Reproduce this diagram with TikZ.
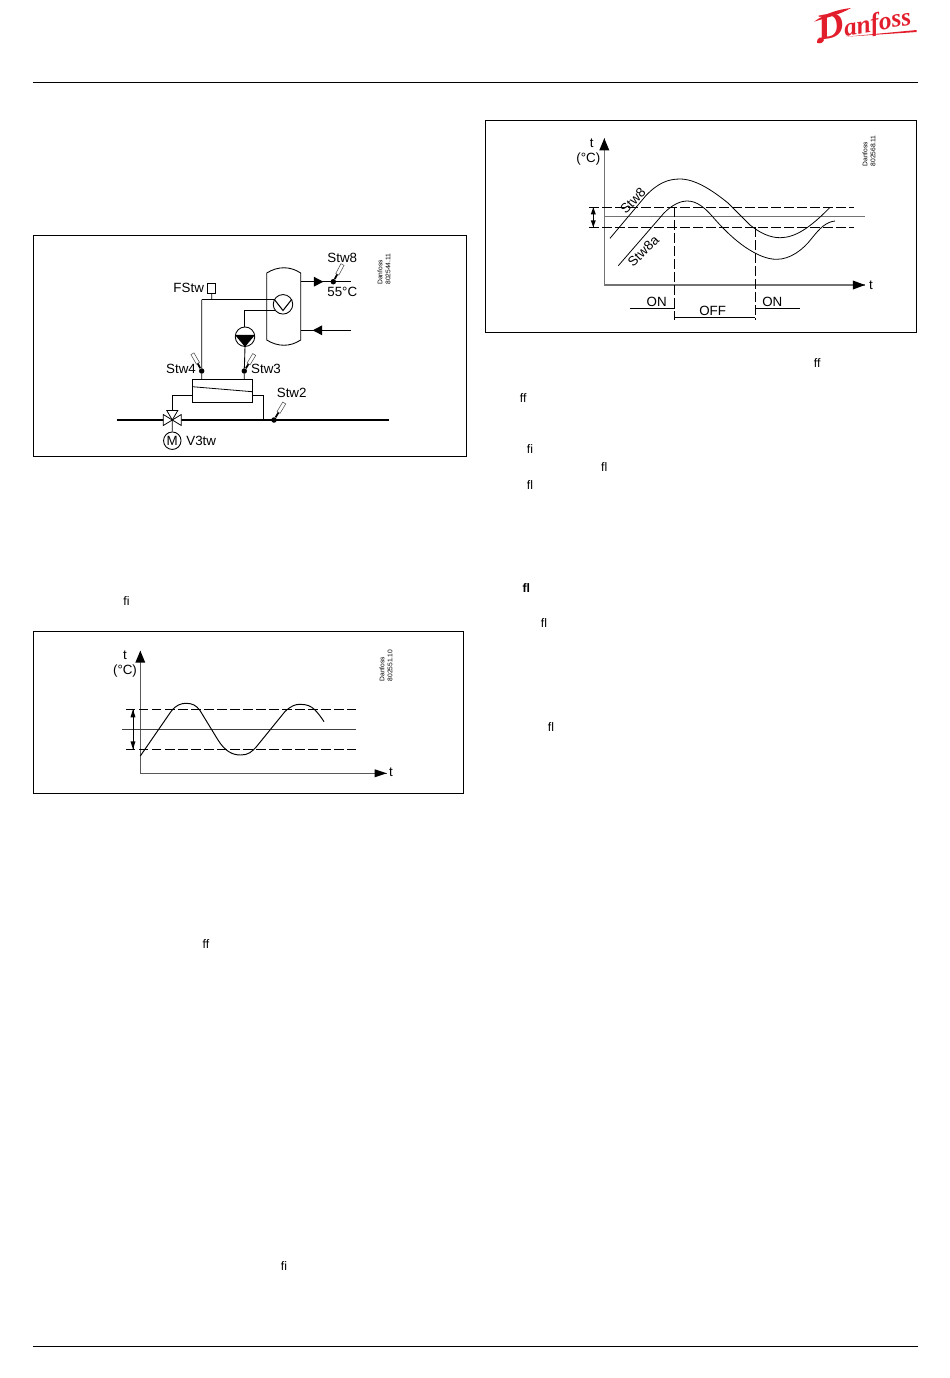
\documentclass[tikz,border=0pt]{standalone}
\usepackage{fontspec}
\setmainfont{Liberation Sans}
\newfontfamily\logofont{Liberation Serif}
\definecolor{logored}{RGB}{227,30,44}
\begin{document}
\begin{tikzpicture}[scale=0.2]
\tikzstyle{every node}+=[inner sep=0pt]
\tikzstyle{txt}=[font=\fontsize{7.6}{9}\selectfont]
\tikzstyle{lig}=[font=\fontsize{7}{8}\selectfont]
\tikzstyle{tag}=[font=\fontsize{3.8}{4.6}\selectfont,rotate=90,anchor=west,align=left]
\tikzstyle{frame}=[draw,line width=0.45pt]
\tikzstyle{pipe}=[line width=0.5pt]
\tikzstyle{mainpipe}=[line width=0.75pt]
\tikzstyle{dot}=[circle,fill=black,minimum size=0.11cm]
\tikzstyle{stem}=[line width=1pt]
\tikzstyle{bulb}=[draw=black!70,fill=white,line width=0.3pt,minimum width=0.22cm,minimum height=0.07cm]
\tikzstyle{rnd}=[circle,draw,fill=white,line width=0.5pt,minimum size=0.39cm]
\tikzstyle{dline}=[line width=0.55pt,dash pattern=on 5.4pt off 2pt]
\tikzstyle{axis}=[line width=0.5pt,black!65]
\tikzstyle{axisb}=[line width=0.8pt,black!55]
\tikzstyle{hair}=[line width=0.45pt]
\useasboundingbox (0,0) rectangle (95,-137.8);
% page rules and logo
\coordinate (topa) at (3.3,-8.25);
\coordinate (topb) at (91.8,-8.25);
\coordinate (bota) at (3.3,-134.6);
\coordinate (botb) at (91.8,-134.6);
\draw [line width=0.5pt] (topa) -- (topb);
\draw [line width=0.5pt] (bota) -- (botb);
\node [logored,rotate=10,font=\logofont\bfseries\itshape] (logo) at (86.4,-2.35) {{\fontsize{21}{21}\selectfont D}{\fontsize{14.5}{15}\selectfont anfoss}};
\fill [logored] (81.4,-2.17) .. controls (82.6,-1.3) and (83.8,-0.95) .. (85.1,-0.8) .. controls (84.0,-1.45) and (82.7,-1.75) .. (81.4,-2.17);
\fill [logored] (81.7,-4.27) .. controls (81.6,-3.8) and (82.2,-3.5) .. (82.4,-4.0) .. controls (82.3,-4.3) and (82,-4.4) .. (81.7,-4.27);
\fill [logored] (84.6,-3.67) -- (91.67,-3.0) -- (91.67,-3.2) -- cycle;
% schematic
\node [frame,minimum width=8.66cm,minimum height=4.42cm] (boxa) at (25,-34.6) {};
\draw [pipe] (26.67,-27.3) -- (26.67,-34) .. controls (27.8,-34.7) and (29,-34.7) .. (30.07,-34) -- (30.07,-27.3) .. controls (29,-26.6) and (27.8,-26.6) .. (26.67,-27.3);
\coordinate (outa) at (30.07,-28.17);
\coordinate (outb) at (35.07,-28.17);
\coordinate (ina) at (30.07,-33.03);
\coordinate (inb) at (35.07,-33.03);
\draw [pipe] (outa) -- (outb);
\draw [pipe] (ina) -- (inb);
\fill [black] (32.33,-28.17) -- ++(-0.95,0.5) -- ++(0,-1) -- cycle;
\fill [black] (31.27,-33.03) -- ++(0.95,0.5) -- ++(0,-1) -- cycle;
\node [rnd] (hx) at (28.3,-30.43) {};
\draw [line width=0.6pt] (hx.150) -- (28.3,-31.05) -- (hx.30);
\node [rnd] (pump) at (24.5,-33.67) {};
\fill [black] (pump.170) -- (pump.south) -- (pump.10) -- cycle;
\node [draw,line width=0.5pt,minimum width=0.165cm,minimum height=0.2cm] (fstw) at (21.18,-28.83) {};
\coordinate (fsa) at (21.18,-29.95);
\coordinate (fsb) at (20.17,-29.95);
\node [draw,line width=0.6pt,minimum width=1.2cm,minimum height=0.468cm] (heat) at (22.23,-39.1) {};
\draw [hair] (19.23,-38.67) -- (25.23,-39.17);
\node [dot] (s4) at (20.17,-37.1) {};
\node [dot] (s3) at (24.43,-37.1) {};
\node [dot] (s2) at (27.4,-42) {};
\node [dot] (s8) at (33.33,-28.17) {};
\draw [pipe] (fstw) -- (fsa);
\draw [pipe] (fsb) -- (fsa -| hx.150);
\draw [pipe] (fsb) -- (s4) -- (s4 |- heat.north);
\coordinate (hxb) at (24.4,-31);
\draw [pipe] (hxb -| hx.215) -- (hxb) -- (pump.north -| hxb);
\draw [pipe] (pump.south) -- (s3) -- (s3 |- heat.north);
\node [bulb,rotate=120] (b4) at (19.52,-35.85) {};
\node [bulb,rotate=59] (b3) at (25.14,-35.92) {};
\node [bulb,rotate=59] (b2) at (28.14,-40.77) {};
\node [bulb,rotate=62] (b8) at (33.99,-26.94) {};
\draw [stem] (s4) -- (b4);
\draw [stem] (s3) -- (b3);
\draw [stem] (s2) -- (b2);
\draw [stem] (s8) -- (b8);
\coordinate (pa) at (11.67,-42);
\coordinate (pb) at (38.93,-42);
\coordinate (v3) at (17.23,-42);
\coordinate (hl) at (17.23,-39.57);
\coordinate (hr) at (26.33,-39.57);
\draw [mainpipe] (pa) -- (pb);
\draw [pipe] (heat.west |- hl) -- (hl) -- (v3);
\draw [pipe] (heat.east |- hr) -- (hr) -- (hr |- pa);
\node [rnd,minimum size=0.35cm] (motor) at (17.23,-44.07) {};
\draw [pipe] (v3) -- (motor);
\node [txt] (mlbl) at (motor) {M};
\draw [hair,fill=white] (v3) -- ++(-0.9,0.55) -- ++(0,-1.1) -- cycle;
\draw [hair,fill=white] (v3) -- ++(0.9,0.55) -- ++(0,-1.1) -- cycle;
\draw [hair,fill=white] (v3) -- ++(-0.55,0.95) -- ++(1.1,0) -- cycle;
\node [txt,anchor=west] (v3tw) at (18.6,-44.07) {V3tw};
\node [txt] (l8) at (34.23,-25.83) {Stw8};
\node [txt] (l55) at (34.23,-29.17) {55°C};
\node [txt] (lf) at (18.87,-28.77) {FStw};
\node [txt] (l4) at (18.1,-36.93) {Stw4};
\node [txt] (l3) at (26.6,-36.93) {Stw3};
\node [txt] (l2) at (29.17,-39.33) {Stw2};
\node [tag] (taga) at (38.4,-28.5) {Danfoss\\802544.11};
% upper right chart
\node [frame,minimum width=8.62cm,minimum height=4.24cm] (boxb) at (70.1,-22.65) {};
\coordinate (oc) at (60.43,-28.5);
\coordinate (oy) at (60.43,-13.83);
\coordinate (ox) at (86.5,-28.5);
\draw [axisb] (oy) -- (oc) -- (ox);
\fill [black] (oy) -- ++(-0.5,-1.2) -- ++(1,0) -- cycle;
\fill [black] (ox) -- ++(-1.2,0.45) -- ++(0,-0.9) -- cycle;
\node [txt] (ty) at (59.17,-14.33) {t};
\node [txt] (tu) at (58.83,-15.93) {(°C)};
\node [txt] (tx) at (87.1,-28.5) {t};
\coordinate (dal) at (58.93,-20.73);
\coordinate (dar) at (85.4,-20.73);
\coordinate (dbl) at (58.93,-22.73);
\coordinate (dbr) at (85.4,-22.73);
\coordinate (mil) at (60.43,-21.67);
\coordinate (mir) at (86.5,-21.67);
\draw [dline] (dal) -- (dar);
\draw [dline] (dbl) -- (dbr);
\draw [axisb] (mil) -- (mir);
\coordinate (aa) at (59.33,-20.73);
\coordinate (ab) at (59.33,-22.73);
\draw [hair] (aa) -- (ab);
\fill [black] (aa) -- ++(-0.25,-0.7) -- ++(0.5,0) -- cycle;
\fill [black] (ab) -- ++(-0.25,0.7) -- ++(0.5,0) -- cycle;
\draw [hair] (61,-23.83) -- (64.6,-19.55) .. controls (65.8,-18.3) and (66.8,-17.9) .. (68,-17.9) .. controls (69.5,-17.9) and (71.2,-19) .. (72.8,-20.3) -- (75,-22.5) .. controls (76,-23.3) and (77,-23.77) .. (78,-23.77) .. controls (79.5,-23.77) and (81,-22.8) .. (83,-20.73);
\draw [hair] (61.83,-26.57) -- (66.4,-21.3) .. controls (67.2,-20.5) and (68,-20.1) .. (68.73,-20.1) .. controls (69.7,-20.1) and (70.5,-20.8) .. (71.2,-21.6) .. controls (72.5,-23.1) and (73.5,-24) .. (74.5,-24.7) .. controls (75.7,-25.5) and (76.7,-25.93) .. (77.67,-25.93) .. controls (79,-25.93) and (80.3,-25) .. (81.2,-23.8) .. controls (82,-22.8) and (82.6,-22.2) .. (83.5,-22.1);
\coordinate (va) at (67.47,-20.73);
\coordinate (vb) at (67.47,-32);
\coordinate (vc) at (75.53,-22.73);
\coordinate (vd) at (75.53,-32);
\draw [dline] (va) -- (vb);
\draw [dline] (vc) -- (vd);
\coordinate (ba) at (67.47,-31.73);
\coordinate (bb) at (75.53,-31.73);
\coordinate (oa) at (63,-30.83);
\coordinate (ob) at (67.47,-30.83);
\coordinate (oc2) at (75.53,-30.83);
\coordinate (od) at (80,-30.83);
\draw [hair] (ba) -- (bb);
\draw [hair] (oa) -- (ob);
\draw [hair] (oc2) -- (od);
\node [txt] (on1) at (65.67,-30.17) {ON};
\node [txt] (off) at (71.27,-31.07) {OFF};
\node [txt] (on2) at (77.23,-30.17) {ON};
\node [txt,rotate=46] (ls8) at (63.3,-20.1) {Stw8};
\node [txt,rotate=44] (ls8a) at (64.33,-25.1) {Stw8a};
\node [tag] (tagb) at (86.9,-16.67) {Danfoss\\802568.11};
% lower left chart
\node [frame,minimum width=8.6cm,minimum height=3.24cm] (boxc) at (24.85,-71.25) {};
\coordinate (lo) at (14.03,-77.33);
\coordinate (ly) at (14.03,-65.07);
\coordinate (lx) at (38.67,-77.33);
\draw [axis] (ly) -- (lo) -- (lx);
\fill [black] (ly) -- ++(-0.5,-1.2) -- ++(1,0) -- cycle;
\fill [black] (lx) -- ++(-1.2,0.4) -- ++(0,-0.8) -- cycle;
\node [txt] (lty) at (12.5,-65.5) {t};
\node [txt] (ltu) at (12.5,-67.07) {(°C)};
\node [txt] (ltx) at (39.1,-77.27) {t};
\coordinate (eal) at (12.6,-70.93);
\coordinate (ear) at (35.6,-70.93);
\coordinate (ebl) at (12.6,-74.93);
\coordinate (ebr) at (35.6,-74.93);
\coordinate (eml) at (12.17,-72.93);
\coordinate (emr) at (35.6,-72.93);
\draw [dline] (eal) -- (ear);
\draw [dline] (ebl) -- (ebr);
\draw [hair,black!75] (eml) -- (emr);
\coordinate (ea) at (13.3,-70.93);
\coordinate (eb) at (13.3,-74.93);
\draw [hair] (ea) -- (eb);
\fill [black] (ea) -- ++(-0.25,-0.8) -- ++(0.5,0) -- cycle;
\fill [black] (eb) -- ++(-0.25,0.8) -- ++(0.5,0) -- cycle;
\draw [line width=0.55pt] (14.03,-75.6) -- (17.1,-71.15) .. controls (17.6,-70.5) and (18.1,-70.33) .. (18.6,-70.33) .. controls (19.2,-70.33) and (19.6,-70.5) .. (20,-71.05) -- (21.8,-74) .. controls (22.5,-75.1) and (23.2,-75.5) .. (24.07,-75.5) .. controls (24.8,-75.5) and (25.2,-75.2) .. (25.7,-74.6) -- (28.5,-71.15) .. controls (29.1,-70.6) and (29.5,-70.43) .. (30,-70.43) .. controls (30.7,-70.43) and (31.1,-70.6) .. (31.5,-71) .. controls (31.8,-71.3) and (32.1,-71.7) .. (32.4,-72.17);
\node [tag] (tagc) at (38.6,-68.17) {Danfoss\\802551.10};
% ligatures left over from the text
\node [lig] (t1) at (12.65,-60.15) {fi};
\node [lig] (t2) at (20.6,-94.45) {ff};
\node [lig] (t3) at (28.4,-126.65) {fi};
\node [lig] (t4) at (81.73,-36.33) {ff};
\node [lig] (t5) at (52.33,-39.77) {ff};
\node [lig] (t6) at (53,-44.93) {fi};
\node [lig] (t7) at (60.43,-46.73) {fl};
\node [lig] (t8) at (53,-48.47) {fl};
\node [lig,font=\fontsize{7}{8}\selectfont\bfseries] (t9) at (52.63,-58.83) {fl};
\node [lig] (t10) at (54.4,-62.33) {fl};
\node [lig] (t11) at (55.1,-72.73) {fl};
\end{tikzpicture}
\end{document}
